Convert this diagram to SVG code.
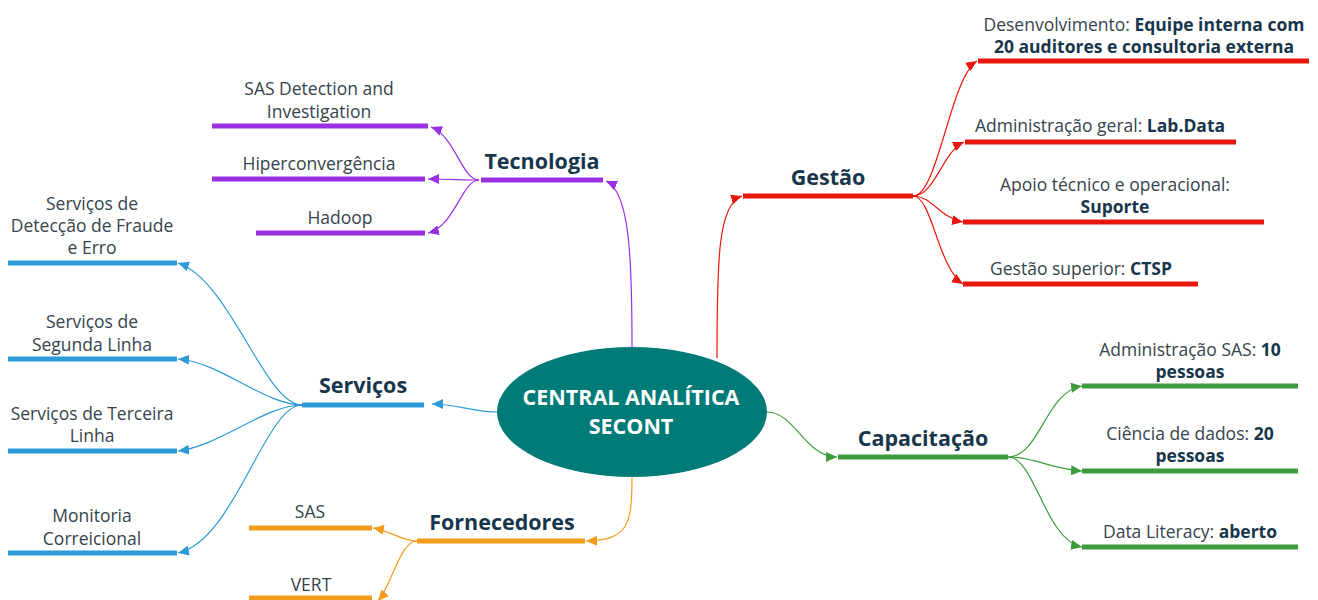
<svg xmlns="http://www.w3.org/2000/svg" width="1318" height="600" viewBox="0 0 1318 600">
<style>
.t{font-family:"Open Sans","Noto Sans",sans-serif;font-size:17.5px;fill:#36434c;text-anchor:middle}
.t tspan.b{font-weight:bold;fill:#17364b}
.h{font-family:"Open Sans","Noto Sans",sans-serif;font-size:21.5px;font-weight:bold;fill:#17364b;text-anchor:middle}
.c{font-family:"Open Sans","Noto Sans",sans-serif;font-size:21.5px;font-weight:bold;fill:#ffffff;text-anchor:middle}
.bar{stroke-width:5;fill:none}
.ln{stroke-width:1.2;fill:none}
.pu{stroke:#9b2fe2}.re{stroke:#e8170d}.bl{stroke:#2b9ad6}.gr{stroke:#3d9b3d}.or{stroke:#f29b1d}
</style>
<defs>
<marker id="aPu" markerUnits="userSpaceOnUse" markerWidth="12" markerHeight="10" refX="11" refY="5" orient="auto"><path d="M0,0 L11,5 L0,10 z" fill="#9b2fe2"/></marker>
<marker id="aRe" markerUnits="userSpaceOnUse" markerWidth="12" markerHeight="10" refX="11" refY="5" orient="auto"><path d="M0,0 L11,5 L0,10 z" fill="#e8170d"/></marker>
<marker id="aBl" markerUnits="userSpaceOnUse" markerWidth="12" markerHeight="10" refX="11" refY="5" orient="auto"><path d="M0,0 L11,5 L0,10 z" fill="#2b9ad6"/></marker>
<marker id="aGr" markerUnits="userSpaceOnUse" markerWidth="12" markerHeight="10" refX="11" refY="5" orient="auto"><path d="M0,0 L11,5 L0,10 z" fill="#3d9b3d"/></marker>
<marker id="aOr" markerUnits="userSpaceOnUse" markerWidth="12" markerHeight="10" refX="11" refY="5" orient="auto"><path d="M0,0 L11,5 L0,10 z" fill="#f29b1d"/></marker>
</defs>
<rect width="1318" height="600" fill="#ffffff"/>

<g id="connectors">
<path class="ln pu" marker-end="url(#aPu)" d="M632 347 C632 260 630 192 606 181"/>
<path class="ln pu" marker-end="url(#aPu)" d="M479 180 C462 180 455 136 431 127"/>
<path class="ln pu" marker-end="url(#aPu)" d="M479 180 C462 180 450 179 428 179"/>
<path class="ln pu" marker-end="url(#aPu)" d="M479 180 C462 180 455 226 428 233"/>

<path class="ln re" marker-end="url(#aRe)" d="M717 358 C717 260 718 204 742 196"/>
<path class="ln re" marker-end="url(#aRe)" d="M913 196 C938 196 950 78 977 61"/>
<path class="ln re" marker-end="url(#aRe)" d="M913 196 C935 196 942 152 964 142"/>
<path class="ln re" marker-end="url(#aRe)" d="M913 196 C932 196 940 218 963 222"/>
<path class="ln re" marker-end="url(#aRe)" d="M913 196 C932 196 938 268 963 284"/>

<path class="ln bl" marker-end="url(#aBl)" d="M497 412 C475 412 455 404 432 404"/>
<path class="ln bl" marker-end="url(#aBl)" d="M302 405 C265 405 230 280 178 263"/>
<path class="ln bl" marker-end="url(#aBl)" d="M302 405 C265 405 220 362 178 359"/>
<path class="ln bl" marker-end="url(#aBl)" d="M302 405 C265 405 220 446 178 451"/>
<path class="ln bl" marker-end="url(#aBl)" d="M302 405 C265 405 235 540 178 553"/>

<path class="ln gr" marker-end="url(#aGr)" d="M767 412 C795 412 805 457 837 457"/>
<path class="ln gr" marker-end="url(#aGr)" d="M1008 457 C1040 457 1045 392 1082 386"/>
<path class="ln gr" marker-end="url(#aGr)" d="M1008 457 C1035 457 1050 469 1082 471"/>
<path class="ln gr" marker-end="url(#aGr)" d="M1008 457 C1035 457 1045 540 1082 547"/>

<path class="ln or" marker-end="url(#aOr)" d="M632 478 C632 525 628 540 586 541"/>
<path class="ln or" marker-end="url(#aOr)" d="M417 541 C400 541 392 531 373 528"/>
<path class="ln or" marker-end="url(#aOr)" d="M417 541 C400 541 392 585 378 601"/>
</g>

<g id="center">
<ellipse cx="632" cy="412" rx="135" ry="65" fill="#007b78"/>
<text class="c" x="631" y="405">CENTRAL ANALÍTICA</text>
<text class="c" x="631" y="434">SECONT</text>
</g>

<g id="tecnologia">
<line class="bar pu" x1="481" y1="180" x2="603" y2="180"/>
<text class="h" x="542" y="169">Tecnologia</text>
</g>
<g id="sas-detection">
<line class="bar pu" x1="212" y1="126" x2="428" y2="126"/>
<text class="t" x="319" y="95">SAS Detection and</text>
<text class="t" x="319" y="118">Investigation</text>
</g>
<g id="hiperconvergencia">
<line class="bar pu" x1="212" y1="179" x2="425" y2="179"/>
<text class="t" x="319" y="170">Hiperconvergência</text>
</g>
<g id="hadoop">
<line class="bar pu" x1="256" y1="233" x2="425" y2="233"/>
<text class="t" x="340" y="224">Hadoop</text>
</g>

<g id="gestao">
<line class="bar re" x1="743" y1="196" x2="913" y2="196"/>
<text class="h" x="828" y="185">Gestão</text>
</g>
<g id="desenvolvimento">
<line class="bar re" x1="978" y1="61" x2="1309" y2="61"/>
<text class="t" x="1144" y="31">Desenvolvimento: <tspan class="b">Equipe interna com</tspan></text>
<text class="t" x="1144" y="53"><tspan class="b">20 auditores e consultoria externa</tspan></text>
</g>
<g id="administracao-geral">
<line class="bar re" x1="965" y1="142" x2="1236" y2="142"/>
<text class="t" x="1100" y="132">Administração geral: <tspan class="b">Lab.Data</tspan></text>
</g>
<g id="apoio">
<line class="bar re" x1="963" y1="222" x2="1264" y2="222"/>
<text class="t" x="1115" y="191">Apoio técnico e operacional:</text>
<text class="t" x="1115" y="213"><tspan class="b">Suporte</tspan></text>
</g>
<g id="gestao-superior">
<line class="bar re" x1="963" y1="284" x2="1198" y2="284"/>
<text class="t" x="1081" y="275">Gestão superior: <tspan class="b">CTSP</tspan></text>
</g>

<g id="servicos">
<line class="bar bl" x1="302" y1="405" x2="424" y2="405"/>
<text class="h" x="363" y="393">Serviços</text>
</g>
<g id="deteccao">
<line class="bar bl" x1="8" y1="263" x2="177" y2="263"/>
<text class="t" x="92" y="210">Serviços de</text>
<text class="t" x="92" y="232">Detecção de Fraude</text>
<text class="t" x="92" y="254">e Erro</text>
</g>
<g id="segunda-linha">
<line class="bar bl" x1="8" y1="359" x2="177" y2="359"/>
<text class="t" x="92" y="328">Serviços de</text>
<text class="t" x="92" y="351">Segunda Linha</text>
</g>
<g id="terceira-linha">
<line class="bar bl" x1="8" y1="451" x2="177" y2="451"/>
<text class="t" x="92" y="420">Serviços de Terceira</text>
<text class="t" x="92" y="442">Linha</text>
</g>
<g id="monitoria">
<line class="bar bl" x1="8" y1="553" x2="177" y2="553"/>
<text class="t" x="92" y="522">Monitoria</text>
<text class="t" x="92" y="545">Correicional</text>
</g>

<g id="capacitacao">
<line class="bar gr" x1="838" y1="457" x2="1008" y2="457"/>
<text class="h" x="923" y="446">Capacitação</text>
</g>
<g id="administracao-sas">
<line class="bar gr" x1="1082" y1="386" x2="1298" y2="386"/>
<text class="t" x="1190" y="356">Administração SAS: <tspan class="b">10</tspan></text>
<text class="t" x="1190" y="378"><tspan class="b">pessoas</tspan></text>
</g>
<g id="ciencia-dados">
<line class="bar gr" x1="1082" y1="471" x2="1298" y2="471"/>
<text class="t" x="1190" y="440">Ciência de dados: <tspan class="b">20</tspan></text>
<text class="t" x="1190" y="462"><tspan class="b">pessoas</tspan></text>
</g>
<g id="data-literacy">
<line class="bar gr" x1="1082" y1="547" x2="1298" y2="547"/>
<text class="t" x="1190" y="538">Data Literacy: <tspan class="b">aberto</tspan></text>
</g>

<g id="fornecedores">
<line class="bar or" x1="417" y1="541" x2="585" y2="541"/>
<text class="h" x="502" y="530">Fornecedores</text>
</g>
<g id="sas">
<line class="bar or" x1="249" y1="528" x2="372" y2="528"/>
<text class="t" x="310" y="518">SAS</text>
</g>
<g id="vert">
<line class="bar or" x1="249" y1="598" x2="372" y2="598"/>
<text class="t" x="311" y="591">VERT</text>
</g>
</svg>
